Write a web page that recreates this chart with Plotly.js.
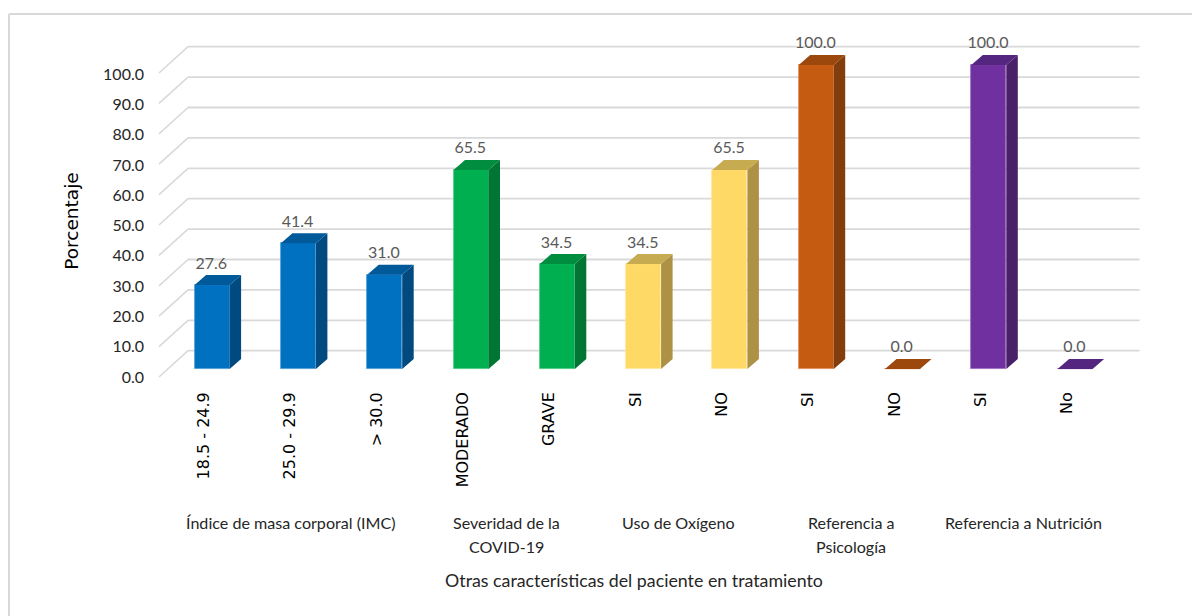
<!DOCTYPE html>
<html>
<head>
<meta charset="utf-8">
<script src="https://cdn.plot.ly/plotly-3.0.1.min.js"></script>
<style>html,body{margin:0;padding:0;background:#fff;overflow:hidden}#chart{width:1192px;height:616px}</style>
</head>
<body>
<div id="chart"></div>
<script>
// ---- data ----
const categories = ['18.5 - 24.9','25.0 - 29.9','> 30.0','MODERADO','GRAVE','SI','NO','SI','NO','SI','No'];
const values = [27.6,41.4,31.0,65.5,34.5,34.5,65.5,100.0,0.0,100.0,0.0];
const frontColors = ['#0070C0','#0070C0','#0070C0','#00B050','#00B050','#FFD966','#FFD966','#C55A11','#C55A11','#7030A0','#7030A0'];
const edgeColors  = ['#4A9BD6','#4A9BD6','#4A9BD6','#45C880','#45C880','#FFE69A','#FFE69A','#E08A50','#E08A50','#9A68BE','#9A68BE'];
const topColors   = ['#005A9A','#005A9A','#005A9A','#008D40','#008D40','#C7AB50','#C7AB50','#9C480D','#9C480D','#552680','#552680'];
const sideColors  = ['#004A80','#004A80','#004A80','#007534','#007534','#AD9144','#AD9144','#833C0B','#833C0B','#4A2069','#4A2069'];
const yTicks = [0,10,20,30,40,50,60,70,80,90,100];
const groupLabels = ['Índice de masa corporal (IMC)','Severidad de la','COVID-19','Uso de Oxígeno','Referencia a','Psicología','Referencia a Nutrición'];
const groupCenters = [1,3.5,3.5,5.5,7.5,7.5,9.5];
const groupRows = [0,0,1,0,0,1,0];
const yTitle = 'Porcentaje';
const xTitle = 'Otras características del paciente en tratamiento';

// ---- scales (pixels per data unit) ----
const W = 1192, H = 616;
const plotL = 118, plotR = 1150, plotT = 20, plotB = 422;
const axisX = 148, axisY = 388;
const pxX = 86.3, pxY = 3.04;
const tick0 = 204, base0 = 369;
const barShift = 8.1 / pxX, barW = 35 / pxX;
const depthX = 11.5 / pxX, depthY = 10 / pxY;
const wallX = 29 / pxX, wallY = 18.3 / pxY;
const wallFrontX = (159 - tick0) / pxX, gridEndX = (1139.5 - tick0) / pxX;
const wallFrontY = -8 / pxY;

const idx = categories.map((_, i) => i);
const xRange = [(plotL - tick0) / pxX, (plotR - tick0) / pxX];
const yRange = [(base0 - plotB) / pxY, (base0 - plotT) / pxY];
const labelPxY = 3.03, label0 = 377;
const y2Range = [(label0 - plotB) / labelPxY, (label0 - plotT) / labelPxY];

const uniq = [...new Set(frontColors)];
const traces = [];

// front faces: real bars
traces.push({
  type: 'bar', x: idx.map(i => i + barShift), y: values, width: barW,
  marker: {color: frontColors, line: {color: edgeColors, width: 0.8}},
  hoverinfo: 'y', showlegend: false
});

// side and top faces of the 3-D bars, derived from the values
uniq.forEach(c => {
  const sx = [], sy = [], tx = [], ty = [];
  idx.forEach(i => {
    if (frontColors[i] !== c) return;
    const r = i + barShift + barW / 2, l = i + barShift - barW / 2, v = values[i];
    sx.push(r, r + depthX, r + depthX, r, r, null);
    sy.push(0, depthY, v + depthY, v, 0, null);
    tx.push(l, l + depthX, r + depthX, r, l, null);
    ty.push(v, v + depthY, v + depthY, v, v, null);
  });
  const k = frontColors.indexOf(c);
  traces.push({type:'scatter', mode:'lines', x:sx, y:sy, fill:'toself', fillcolor:sideColors[k], line:{width:0}, hoverinfo:'skip', showlegend:false});
  traces.push({type:'scatter', mode:'lines', x:tx, y:ty, fill:'toself', fillcolor:topColors[k], line:{width:0}, hoverinfo:'skip', showlegend:false});
});

// value labels
traces.push({
  type:'scatter', mode:'text',
  x: idx.map(i => i + barShift - 0.8 / pxX),
  y: values.map(v => v + 20.6 / pxY),
  text: values.map(v => v.toFixed(1)),
  textposition:'middle center',
  textfont:{family:'Lato', size:16, color:'#595959'},
  hoverinfo:'skip', showlegend:false
});

// helper trace so the label axis exists
traces.push({type:'scatter', mode:'markers', x:[0], y:[0], yaxis:'y2', marker:{opacity:0, size:1}, hoverinfo:'skip', showlegend:false});

// wall gridlines below the bars
const shapes = [];
yTicks.forEach(t => {
  shapes.push({type:'line', layer:'below', xref:'x', yref:'y', x0:wallFrontX, y0:t + wallFrontY, x1:wallFrontX + wallX, y1:t + wallY, line:{color:'#D9D9D9', width:1.6}});
  shapes.push({type:'line', layer:'below', xref:'x', yref:'y', x0:wallFrontX + wallX, y0:t + wallY, x1:gridEndX, y1:t + wallY, line:{color:'#D9D9D9', width:1.8}});
});
// outer frame (only top and left are visible in the picture)
const fx = px => (px - plotL) / (plotR - plotL), fy = px => (plotB - px) / (plotB - plotT);
shapes.push({type:'line', xref:'paper', yref:'paper', x0:fx(9), x1:fx(W), y0:fy(14), y1:fy(14), line:{color:'#D9D9D9', width:2}});
shapes.push({type:'line', xref:'paper', yref:'paper', x0:fx(9), x1:fx(9), y0:fy(14), y1:fy(H), line:{color:'#D9D9D9', width:2}});

const annotations = groupLabels.map((t, i) => ({
  text: t, xref:'x', yref:'paper', x: groupCenters[i],
  y: fy(522 + 24 * groupRows[i]),
  showarrow:false, xanchor:'center', yanchor:'middle',
  font:{family:'Lato', size:16.1, color:'#262626'}
}));

const layout = {
  width:W, height:H, paper_bgcolor:'#fff', plot_bgcolor:'rgba(0,0,0,0)',
  margin:{l:plotL, r:W - plotR, t:plotT, b:H - plotB, pad:0},
  showlegend:false, bargap:0,
  xaxis:{range:xRange, anchor:'free', position:fy(axisY), tickmode:'array', tickvals:idx, ticktext:categories, tickangle:-90,
    tickfont:{family:'DejaVu Sans', size:16, color:'#000'}, showgrid:false, zeroline:false, showline:false, ticks:'', automargin:false,
    title:{text:xTitle, standoff:88, font:{family:'Lato', size:17.8, color:'#262626'}}},
  yaxis:{range:yRange, showticklabels:false, showgrid:false, zeroline:false, showline:false, ticks:'', automargin:false},
  yaxis2:{range:y2Range, overlaying:'y', side:'left', anchor:'free', position:fx(axisX), tickmode:'array', tickvals:yTicks,
    ticktext:yTicks.map(t => t.toFixed(1)), tickfont:{family:'Lato', size:16, color:'#262626'},
    ticklabelstandoff:4,
    showgrid:false, zeroline:false, showline:false, ticks:'', automargin:false,
    title:{text:yTitle, standoff:18, font:{family:'DejaVu Sans', size:18.5, color:'#000'}}},
  shapes, annotations
};
Plotly.newPlot('chart', traces, layout, {displayModeBar:false, responsive:false});
</script>
</body>
</html>
